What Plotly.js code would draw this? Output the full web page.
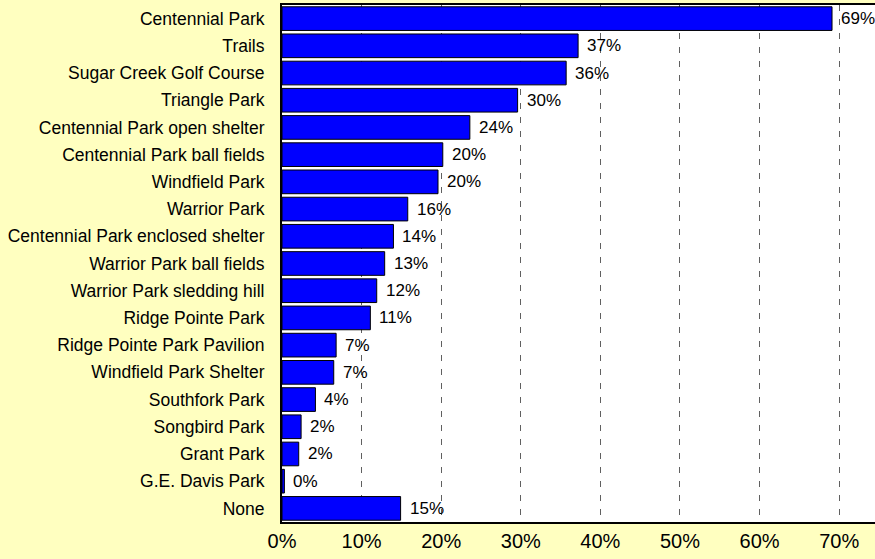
<!DOCTYPE html>
<html>
<head>
<meta charset="utf-8">
<script src="https://cdn.plot.ly/plotly-3.0.1.min.js"></script>
<style>
html,body{margin:0;padding:0;background:#FFFFC0;}
#chart{width:875px;height:559px;}
</style>
</head>
<body>
<div id="chart"></div>
<script>
var categories = [
  "Centennial Park",
  "Trails",
  "Sugar Creek Golf Course",
  "Triangle Park",
  "Centennial Park open shelter",
  "Centennial Park ball fields",
  "Windfield Park",
  "Warrior Park",
  "Centennial Park enclosed shelter",
  "Warrior Park ball fields",
  "Warrior Park sledding hill",
  "Ridge Pointe Park",
  "Ridge Pointe Park Pavilion",
  "Windfield Park Shelter",
  "Southfork Park",
  "Songbird Park",
  "Grant Park",
  "G.E. Davis Park",
  "None"
];
var values = [69.1, 37.2, 35.7, 29.6, 23.6, 20.2, 19.6, 15.8, 14.0, 12.9, 11.9, 11.1, 6.8, 6.5, 4.2, 2.4, 2.1, 0.3, 14.9];
var labels = ["69%","37%","36%","30%","24%","20%","20%","16%","14%","13%","12%","11%","7%","7%","4%","2%","2%","0%","15%"];
var tickValues = [0,10,20,30,40,50,60,70];
var tickLabels = ["0%","10%","20%","30%","40%","50%","60%","70%"];

var FONT = "Liberation Sans, Arial, sans-serif";

var trace = {
  type: "bar",
  orientation: "h",
  x: values,
  y: categories,
  marker: {color: "#0000FF", line: {color: "#000000", width: 1}},
  hoverinfo: "none"
};

var annotations = categories.map(function(c, i){
  return {
    x: values[i], y: c, xref: "x", yref: "y",
    text: labels[i], showarrow: false,
    xanchor: "left", yanchor: "middle", xshift: 7,
    font: {family: FONT, size: 17, color: "#000"}
  };
});

var layout = {
  width: 875, height: 559,
  margin: {l: 282, r: 0, t: 5, b: 37, pad: 0},
  paper_bgcolor: "#FFFFC0",
  plot_bgcolor: "#FFFFFF",
  bargap: 0.13,
  showlegend: false,
  font: {family: FONT, color: "#000"},
  xaxis: {
    range: [0, 74.5],
    tickvals: tickValues,
    ticktext: tickLabels,
    showgrid: true,
    gridcolor: "#606060",
    gridwidth: 1,
    griddash: "6px,8px",
    zeroline: false,
    showline: true,
    linecolor: "#000",
    linewidth: 2,
    mirror: true,
    ticks: "",
    tickfont: {family: FONT, size: 20, color: "#000"},
    fixedrange: true
  },
  yaxis: {
    autorange: "reversed",
    showgrid: false,
    zeroline: false,
    showline: true,
    linecolor: "#000",
    linewidth: 2,
    ticks: "",
    ticklabelstandoff: 12,
    tickfont: {family: FONT, size: 17.5, color: "#000"},
    fixedrange: true
  },
  annotations: annotations
};

Plotly.newPlot("chart", [trace], layout, {displayModeBar: false, staticPlot: true});
</script>
</body>
</html>
